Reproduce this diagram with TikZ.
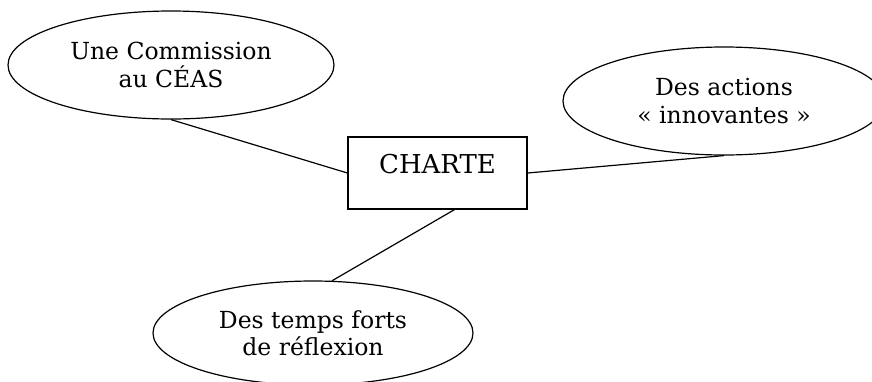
\documentclass[tikz,border=0pt]{standalone}
\usepackage{fontspec}
\setmainfont{DejaVu Serif}
\usetikzlibrary{shapes.geometric}
\tikzset{
  bubble/.style={draw, ellipse, line width=1.2pt, inner sep=0pt, align=center,
    font=\fontsize{23.5}{27.5}\selectfont},
  chartebox/.style={draw, rectangle, line width=1.2pt, inner sep=0pt,
    minimum width=179pt, text height=36pt, text depth=36pt,
    font=\fontsize{26}{30}\selectfont},
  link/.style={line width=1.2pt}
}
\begin{document}
\begin{tikzpicture}[x=1pt,y=-1pt]
\useasboundingbox (0,0) rectangle (872,381);
\node[bubble, minimum width=326pt, minimum height=108pt] (e1) at (171,65) {Une Commission\\au CÉAS};
\node[bubble, minimum width=322pt, minimum height=108pt] (e2) at (724,101) {Des actions\\« innovantes »};
\node[bubble, minimum width=320pt, minimum height=104pt] (e3) at (313,333) {Des temps forts\\de réflexion};
\node[chartebox] (b) at (437.5,173) {CHARTE};
\draw[link] (e1.south) -- (b.west);
\draw[link] (b.east) -- (e2.south);
\draw[link] ([xshift=17pt]b.south) -- (e3.70);
\end{tikzpicture}
\end{document}
